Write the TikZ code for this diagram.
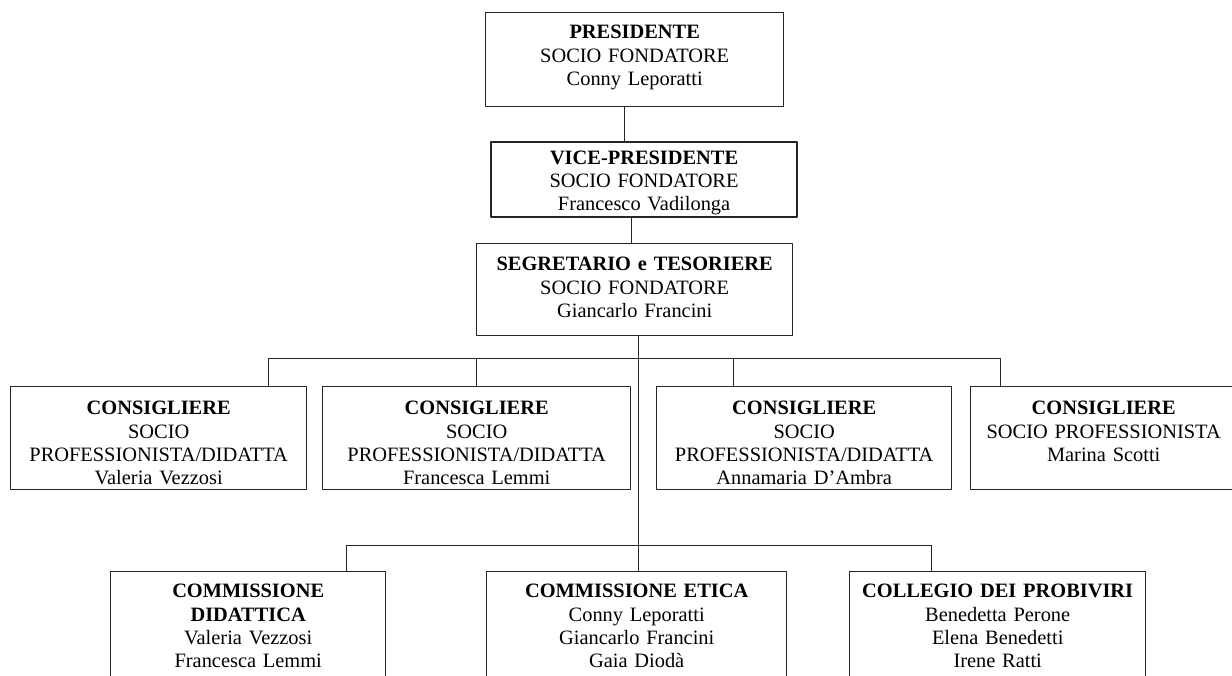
\documentclass[tikz,border=0pt]{standalone}
\usepackage{fontspec}
\setmainfont{Liberation Serif}
\newcommand\orgfont{\fontsize{10.2}{11.65}\selectfont}
\tikzset{
  orgbox/.style={draw=black!85, line width=.7pt, inner sep=0pt, align=center, anchor=north west, font=\orgfont},
  consbox/.style={orgbox, text height=14pt, text depth=37.5pt},
  commbox/.style={orgbox, text height=13pt, text depth=52pt},
  link/.style={draw=black!85, line width=.5pt}
}
\begin{document}
\begin{tikzpicture}[x=.5pt, y=-.5pt, line join=round]
		\fill[white](0,0)rectangle(1232,675);
		\useasboundingbox(0,0)rectangle(1232,675);
		% top of the chart
		\node[orgbox, text width=149pt, text height=13pt, text depth=34pt](pres)at(485,12){\textbf{PRESIDENTE}\\SOCIO FONDATORE\\Conny Leporatti};
		\node[orgbox, line width=1.1pt, text width=153pt, text height=11pt, text depth=26.5pt](vice)at(490,141){\textbf{VICE-PRESIDENTE}\\SOCIO FONDATORE\\Francesco Vadilonga};
		\node[orgbox, text width=158pt, text height=13.5pt, text depth=32.5pt](segr)at(476,243){\textbf{SEGRETARIO e TESORIERE}\\SOCIO FONDATORE\\Giancarlo Francini};
		% consiglieri
		\node[consbox, text width=148pt](cons1)at(10,386){\textbf{CONSIGLIERE}\\SOCIO\\PROFESSIONISTA/DIDATTA\\Valeria Vezzosi};
		\node[consbox, text width=154pt](cons2)at(322,386){\textbf{CONSIGLIERE}\\SOCIO\\PROFESSIONISTA/DIDATTA\\Francesca Lemmi};
		\node[consbox, text width=147.5pt](cons3)at(656,386){\textbf{CONSIGLIERE}\\SOCIO\\PROFESSIONISTA/DIDATTA\\Annamaria D’Ambra};
		\node[consbox, text width=133pt](cons4)at(970,386){\textbf{CONSIGLIERE}\\SOCIO PROFESSIONISTA\\Marina Scotti};
		% commissioni
		\node[commbox, text width=137.5pt](comm1)at(110,571){\textbf{COMMISSIONE}\\\textbf{DIDATTICA}\\Valeria Vezzosi\\Francesca Lemmi};
		\node[commbox, text width=150pt](comm2)at(486,571){\textbf{COMMISSIONE ETICA}\\Conny Leporatti\\Giancarlo Francini\\Gaia Diodà};
		\node[commbox, text width=148pt](comm3)at(849,571){\textbf{COLLEGIO DEI PROBIVIRI}\\Benedetta Perone\\Elena Benedetti\\Irene Ratti};
		% connectors
		\coordinate(v1)at(624,0);\coordinate(v2)at(631,0);
		\coordinate(d1)at(268,358);\coordinate(d2)at(476,358);
		\coordinate(d3)at(733,358);\coordinate(d4)at(1000,358);
		\coordinate(e1)at(346,545);\coordinate(e2)at(638,545);\coordinate(e3)at(931,545);
		\draw[link](pres.south-|v1)--(vice.north-|v1);
		\draw[link](vice.south-|v2)--(segr.north-|v2);
		\draw[link](segr.south-|e2)--(e2);
		\draw[link](d1)--(d4);
		\draw[link](e1)--(e3);
		\foreach \c/\n in{d1/cons1,d2/cons2,d3/cons3,d4/cons4,e1/comm1,e2/comm2,e3/comm3}\draw[link](\c)--(\c|-\n.north);
	\end{tikzpicture}
\end{document}
